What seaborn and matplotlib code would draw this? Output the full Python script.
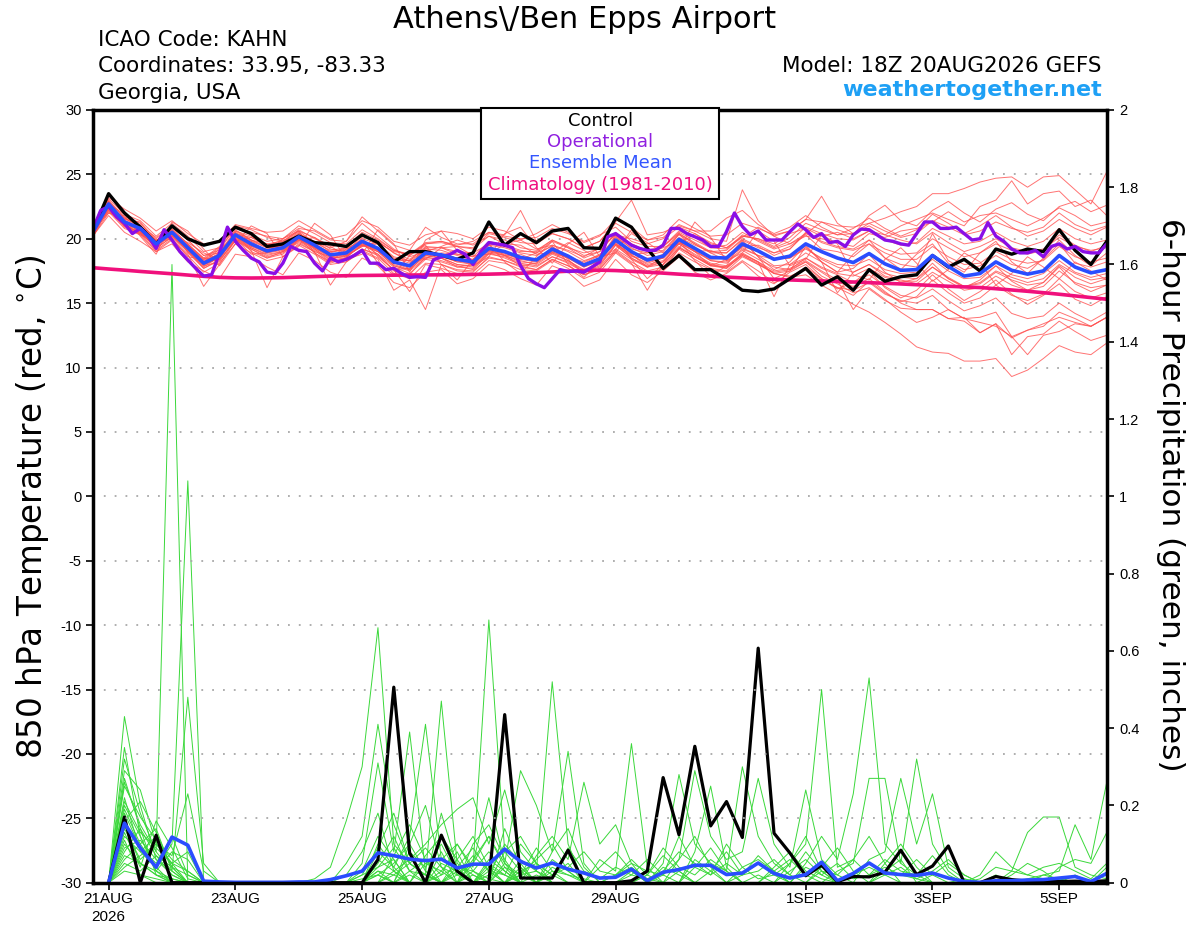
import numpy as np
import pandas as pd
import matplotlib
matplotlib.use("Agg")
import matplotlib.pyplot as plt
import seaborn as sns
from matplotlib.patches import Rectangle

# ---------------- data ----------------
RUN_START = "2026-08-20 18:00"
N_STEPS = 65          # 6-hourly temperature steps
N_OPER = 129          # 3-hourly operational steps

TICK_DATES = ["2026-08-21", "2026-08-23", "2026-08-25", "2026-08-27",
              "2026-08-29", "2026-09-01", "2026-09-03", "2026-09-05"]
TICK_LABELS = ["21AUG\n2026", "23AUG", "25AUG", "27AUG", "29AUG", "1SEP", "3SEP", "5SEP"]

TEMP_TICKS = [30, 25, 20, 15, 10, 5, 0, -5, -10, -15, -20, -25, -30]
PRCP_TICKS = [0, 0.2, 0.4, 0.6, 0.8, 1, 1.2, 1.4, 1.6, 1.8, 2]
PRCP_TICK_LABELS = ["0", "0.2", "0.4", "0.6", "0.8", "1", "1.2", "1.4", "1.6", "1.8", "2"]

control_t = [20.6, 23.5, 22.0, 20.9, 19.6, 21.0, 20.0, 19.5, 19.8, 20.9, 20.4, 19.4, 19.6,
             20.2, 19.7, 19.6, 19.4, 20.3, 19.7, 18.2, 19.0, 19.0, 18.7, 18.4, 18.9, 21.3,
             19.5, 20.4, 19.7, 20.6, 20.8, 19.3, 19.25, 21.6, 20.9, 19.25, 17.7, 18.7, 17.6,
             17.6, 16.85, 16.0, 15.9, 16.1, 16.9, 17.7, 16.4, 17.05, 16.0, 17.6, 16.7, 17.05,
             17.2, 18.7, 17.8, 18.4, 17.5, 19.2, 18.8, 19.2, 19.0, 20.7, 19.1, 18.0, 19.8]

mean_t = [20.5, 22.7, 21.3, 20.8, 19.6, 20.5, 19.3, 18.1, 18.7, 20.3, 19.6, 19.05, 19.3,
          20.15, 19.5, 18.75, 18.9, 19.8, 19.25, 18.2, 17.9, 18.9, 18.75, 18.4, 18.2, 19.25,
          19.0, 18.55, 18.35, 19.2, 18.65, 17.95, 18.45, 19.9, 19.0, 18.35, 18.65, 19.95, 19.25,
          18.55, 18.5, 19.6, 19.05, 18.4, 18.65, 19.6, 19.0, 18.5, 18.15, 18.85, 18.05, 17.55,
          17.6, 18.7, 17.85, 17.1, 17.3, 18.2, 17.55, 17.25, 17.5, 18.7, 17.8, 17.35, 17.6]

clim_t = [17.75, 17.65, 17.56, 17.46, 17.37, 17.28, 17.18, 17.08, 17.00, 16.96, 16.95, 16.96, 16.98,
          17.02, 17.06, 17.10, 17.13, 17.15, 17.16, 17.17, 17.18, 17.19, 17.20, 17.21, 17.23, 17.25,
          17.28, 17.32, 17.37, 17.42, 17.48, 17.53, 17.56, 17.53, 17.47, 17.40, 17.33, 17.25, 17.18,
          17.10, 17.02, 16.96, 16.90, 16.85, 16.80, 16.76, 16.72, 16.68, 16.64, 16.59, 16.54, 16.49,
          16.43, 16.37, 16.31, 16.26, 16.21, 16.12, 16.02, 15.92, 15.81, 15.69, 15.56, 15.43, 15.30]

oper_t = [20.7, 22.2, 22.5, 21.7, 21.2, 20.4, 20.8, 20.2, 19.25, 20.7, 19.9, 19.0, 18.35, 17.7,
          17.1, 17.2, 18.9, 20.9, 19.8, 19.1, 18.5, 18.2, 17.4, 17.3, 18.1, 19.4, 19.1, 19.0,
          18.1, 17.5, 18.5, 18.2, 18.4,
          18.7, 19.1, 18.1, 18.1, 17.6, 17.7, 17.3, 17.0, 17.05, 17.0, 18.35, 18.6, 18.75, 19.1,
          18.8, 18.0, 19.0, 19.7, 19.6, 19.5, 19.3, 17.9, 16.9, 16.5, 16.2, 16.9, 17.6, 17.45,
          17.5, 17.4, 17.8, 18.2,
          20.15, 20.4, 19.95, 19.5, 19.25, 19.1, 19.1, 19.5, 20.8, 20.8, 20.4, 20.15, 19.9, 19.4,
          19.4, 20.55, 22.0, 20.95, 20.3, 20.6, 19.9, 19.9, 19.9, 20.55, 21.15, 20.7, 20.1, 20.4,
          19.7, 19.8, 19.4, 20.3,
          20.75, 20.7, 20.3, 19.9, 19.8, 19.6, 19.5, 20.4, 21.3, 21.3, 20.8, 20.8, 20.9, 20.4,
          19.9, 20.0, 21.25, 20.2, 19.8, 19.2, 18.9, 18.9, 19.1, 18.6, 19.4, 19.6, 19.2, 19.4,
          19.0, 18.9, 18.9, 19.6]

R01 = [20.3, 22.9, 21.7, 21.2, 20.0, 20.9, 19.9, 18.7, 19.1, 20.9, 20.3, 19.8, 20.0,
       21.0, 20.4, 19.7, 19.6, 20.7, 20.0, 19.1, 18.7, 19.6, 19.8, 19.4, 19.3, 20.4,
       20.1, 19.7, 19.6, 20.4, 20.0, 19.3, 19.8, 21.2, 20.5, 19.9, 20.3, 21.5, 20.8,
       20.2, 20.3, 21.2, 20.8, 20.3, 20.6, 21.5, 21.3, 21.0, 20.9, 21.2, 21.6, 22.1,
       22.5, 23.5, 23.5, 23.9, 24.4, 24.7, 24.8, 24.0, 24.8, 24.9, 23.8, 22.7, 25.2]
R02 = [20.5, 23.1, 21.9, 21.0, 19.9, 20.4, 19.5, 18.5, 19.4, 21.0, 20.7, 20.1, 19.8,
       20.6, 19.7, 19.3, 19.8, 21.2, 20.2, 19.2, 18.6, 19.0, 19.4, 19.9, 19.5, 20.2,
       19.6, 19.9, 19.2, 19.5, 19.1, 18.6, 19.3, 20.3, 20.0, 19.6, 20.0, 20.9, 20.4,
       19.7, 19.3, 20.2, 20.0, 19.6, 20.4, 20.8, 20.2, 20.5, 20.0, 20.6, 20.3, 21.0,
       21.5, 22.0, 21.5, 21.0, 22.5, 23.0, 24.5, 22.7, 23.5, 23.7, 22.5, 23.0, 21.8]
R03 = [20.2, 22.5, 21.6, 20.9, 19.4, 20.8, 19.6, 18.4, 18.6, 20.6, 20.2, 19.5, 19.7,
       20.6, 20.1, 19.2, 19.0, 20.2, 19.8, 18.9, 18.4, 19.3, 19.3, 19.0, 18.9, 19.6,
       19.4, 19.0, 19.0, 19.9, 19.4, 18.7, 19.0, 20.4, 19.6, 19.1, 19.4, 20.6, 20.1,
       19.3, 19.5, 20.5, 19.8, 19.2, 19.6, 20.2, 20.0, 19.7, 19.4, 20.4, 20.1, 20.6,
       20.8, 21.3, 22.1, 21.3, 21.8, 22.0, 21.5, 21.0, 21.6, 22.4, 21.8, 21.0, 21.3]
R04 = [20.4, 22.6, 21.2, 20.6, 19.2, 20.2, 19.1, 17.7, 18.3, 19.9, 19.2, 18.6, 18.9,
       19.8, 19.1, 18.2, 18.5, 19.6, 18.8, 17.5, 17.2, 18.6, 18.3, 17.9, 17.6, 18.8,
       18.6, 18.1, 17.9, 18.6, 18.1, 17.4, 17.9, 19.5, 18.5, 17.8, 18.2, 19.6, 18.7,
       18.0, 17.8, 18.9, 18.2, 17.3, 17.0, 17.2, 16.4, 15.7, 14.9, 14.3, 13.5, 12.6,
       11.6, 11.2, 11.1, 10.5, 10.5, 10.7, 9.3, 9.8, 10.7, 11.7, 11.2, 11.0, 11.9]
R05 = [20.6, 22.3, 21.0, 20.5, 19.3, 20.1, 19.0, 17.9, 18.2, 20.0, 19.3, 18.8, 19.0,
       19.7, 19.0, 18.6, 18.4, 19.2, 18.8, 17.8, 17.3, 18.4, 18.2, 17.8, 17.7, 18.9,
       18.5, 18.0, 17.8, 18.6, 18.2, 17.4, 17.8, 19.2, 18.4, 17.8, 18.0, 19.3, 18.6,
       17.9, 17.8, 18.7, 18.0, 17.3, 17.5, 18.2, 17.4, 16.6, 16.3, 16.9, 15.9, 15.0,
       14.5, 14.5, 13.8, 13.6, 12.7, 13.4, 11.0, 12.4, 12.6, 13.6, 12.8, 12.1, 12.5]
R06 = [20.1, 22.4, 21.1, 20.4, 19.7, 20.4, 19.2, 18.0, 18.5, 20.1, 19.3, 18.7, 19.0,
       19.9, 19.3, 18.5, 18.6, 19.5, 19.0, 17.9, 17.5, 18.5, 18.5, 18.0, 17.8, 18.9,
       18.7, 18.3, 18.0, 18.8, 18.3, 17.5, 18.0, 19.5, 18.5, 17.9, 18.2, 19.4, 18.6,
       18.0, 17.7, 18.7, 18.1, 17.3, 17.1, 17.6, 16.8, 16.2, 16.0, 16.6, 15.7, 15.2,
       15.0, 15.6, 14.5, 13.8, 13.9, 14.3, 12.4, 12.9, 13.4, 13.9, 13.5, 13.2, 13.9]
R07 = [20.3, 22.8, 21.4, 20.7, 19.5, 20.3, 19.0, 17.8, 18.6, 20.2, 19.4, 18.9, 19.2,
       20.0, 19.3, 18.7, 18.7, 19.6, 19.1, 18.0, 17.6, 18.7, 18.6, 18.2, 18.0, 19.1,
       18.8, 18.4, 18.2, 19.0, 18.5, 17.8, 18.3, 19.7, 18.7, 18.1, 18.5, 19.7, 19.0,
       18.3, 18.2, 19.2, 18.7, 17.9, 18.0, 18.5, 17.7, 17.2, 16.6, 17.2, 16.3, 15.6,
       15.4, 16.1, 15.2, 14.4, 14.8, 15.4, 14.2, 13.8, 14.0, 15.0, 14.2, 13.6, 14.3]
R08 = [20.5, 22.2, 20.9, 20.4, 19.1, 20.0, 18.8, 16.3, 18.0, 19.9, 19.1, 16.2, 18.6,
       19.6, 19.0, 16.4, 18.2, 19.0, 18.4, 16.0, 16.8, 14.5, 18.0, 17.6, 17.5, 18.5,
       18.3, 17.9, 17.6, 18.4, 17.9, 17.2, 17.7, 19.0, 18.1, 16.0, 18.0, 19.3, 18.6,
       17.9, 17.7, 18.8, 18.2, 15.5, 18.0, 18.9, 18.2, 15.8, 17.4, 18.0, 17.1, 16.8,
       16.5, 17.4, 16.7, 16.0, 16.2, 17.1, 16.4, 16.0, 16.3, 17.5, 16.6, 16.2, 16.4]
R09 = [20.4, 22.7, 21.9, 21.4, 20.2, 21.2, 20.2, 19.0, 19.3, 20.8, 20.5, 20.2, 20.0,
       20.8, 20.6, 19.9, 19.8, 21.7, 20.6, 19.5, 19.1, 20.9, 20.1, 19.6, 19.6, 20.5,
       20.3, 22.2, 19.8, 20.4, 20.0, 19.3, 19.8, 21.3, 23.0, 20.3, 20.5, 21.0, 20.6,
       20.0, 19.8, 23.8, 21.4, 20.2, 20.6, 21.5, 23.3, 21.2, 20.4, 21.0, 20.3, 19.9,
       19.6, 20.5, 19.7, 19.0, 19.4, 20.0, 19.3, 19.0, 19.2, 20.1, 19.4, 19.1, 19.3]
R10 = [20.3, 22.4, 21.0, 20.9, 19.8, 20.6, 19.4, 18.2, 18.9, 20.5, 19.8, 19.3, 19.4,
       20.4, 19.8, 19.0, 19.1, 20.0, 19.6, 18.5, 18.1, 19.2, 19.1, 18.7, 18.4, 19.5,
       19.3, 18.9, 18.7, 19.5, 19.0, 18.3, 18.7, 20.1, 19.3, 18.7, 19.0, 20.3, 19.6,
       18.9, 18.9, 20.0, 19.4, 18.7, 19.2, 20.4, 19.8, 19.4, 19.2, 19.9, 19.2, 18.8,
       18.9, 20.0, 19.3, 18.6, 18.9, 19.6, 19.1, 18.8, 19.1, 20.3, 19.5, 19.0, 19.5]
R11 = [20.6, 22.1, 20.8, 20.3, 19.0, 19.9, 18.7, 17.4, 18.1, 19.6, 18.9, 18.3, 18.6,
       19.5, 18.8, 18.0, 18.2, 19.1, 18.5, 17.3, 16.9, 18.1, 18.0, 17.5, 17.4, 18.6,
       18.3, 17.8, 17.6, 18.4, 17.9, 17.2, 17.6, 19.1, 18.2, 17.5, 17.8, 19.2, 18.4,
       17.7, 17.5, 18.6, 18.0, 17.4, 17.6, 18.5, 17.8, 17.3, 17.1, 17.7, 17.0, 16.7,
       16.7, 17.8, 16.9, 16.3, 16.5, 17.4, 16.8, 16.4, 16.6, 17.9, 17.0, 16.5, 16.9]
R12 = [20.2, 22.0, 21.5, 20.5, 19.8, 20.7, 19.6, 18.5, 18.4, 20.4, 19.9, 19.4, 19.6,
       20.5, 19.2, 18.4, 18.7, 19.4, 19.6, 18.4, 18.3, 18.5, 18.9, 18.8, 18.6, 19.0,
       18.9, 18.4, 18.9, 19.4, 18.6, 18.2, 18.8, 19.6, 18.8, 18.9, 19.3, 19.8, 19.0,
       19.1, 18.6, 19.4, 19.5, 18.9, 19.4, 20.3, 19.2, 19.0, 18.6, 19.6, 18.5, 18.0,
       17.8, 20.4, 18.3, 17.6, 17.9, 18.7, 18.0, 17.7, 18.4, 19.6, 18.1, 17.8, 18.2]
R13 = [20.5, 23.0, 21.6, 21.0, 19.5, 20.7, 19.5, 18.3, 18.8, 20.6, 19.9, 19.3, 19.5,
       20.4, 19.7, 19.1, 19.3, 20.3, 19.6, 18.6, 18.3, 19.4, 19.3, 18.8, 18.6, 19.8,
       19.5, 19.1, 18.9, 19.8, 19.3, 18.5, 19.0, 20.5, 19.6, 19.0, 19.4, 20.5, 19.9,
       19.3, 19.2, 20.3, 19.9, 19.3, 19.8, 20.9, 20.4, 20.0, 19.9, 20.6, 19.9, 19.5,
       19.7, 20.8, 20.2, 19.6, 19.8, 20.5, 19.8, 19.4, 19.8, 20.8, 20.0, 19.6, 19.9]
R14 = [20.4, 22.5, 21.3, 20.6, 19.3, 20.4, 19.2, 18.0, 18.5, 20.0, 19.2, 18.5, 18.8,
       19.9, 19.2, 18.3, 18.4, 19.2, 18.7, 17.6, 15.9, 18.0, 17.7, 17.3, 17.2, 18.3,
       18.1, 17.6, 17.5, 18.3, 17.7, 16.9, 17.4, 18.9, 18.0, 17.4, 17.6, 18.9, 18.2,
       17.6, 17.4, 18.3, 17.5, 16.6, 17.0, 17.8, 16.9, 16.2, 15.6, 16.7, 15.8, 15.1,
       15.5, 16.8, 15.8, 15.0, 15.4, 16.4, 15.6, 15.2, 15.7, 16.9, 15.9, 15.4, 15.8]
R15 = [20.3, 22.6, 21.2, 20.8, 19.9, 20.3, 19.1, 18.2, 19.2, 20.1, 19.4, 19.2, 19.5,
       20.1, 19.6, 18.9, 19.3, 19.7, 19.0, 18.4, 18.3, 19.1, 18.7, 18.2, 18.4, 19.1,
       18.7, 18.8, 18.3, 18.9, 18.5, 18.1, 18.7, 19.6, 18.6, 18.5, 18.5, 19.7, 19.0,
       18.4, 18.5, 19.3, 18.7, 18.4, 18.5, 19.2, 18.5, 18.0, 17.9, 18.4, 17.6, 17.3,
       17.4, 18.4, 17.5, 16.9, 17.0, 17.9, 17.2, 16.9, 17.3, 18.3, 17.4, 17.0, 17.3]
R16 = [20.4, 22.8, 21.0, 20.7, 19.7, 20.2, 19.4, 18.4, 19.0, 20.4, 20.1, 19.5, 19.9,
       20.0, 19.4, 19.0, 19.2, 19.5, 19.7, 19.0, 18.8, 19.7, 19.8, 19.5, 19.8, 20.5,
       20.2, 20.0, 20.1, 20.8, 20.4, 19.8, 20.3, 20.9, 19.8, 19.4, 19.4, 20.4, 19.6,
       18.9, 18.3, 19.4, 19.0, 18.5, 18.5, 19.3, 18.4, 17.8, 17.4, 18.0, 17.3, 17.0,
       16.9, 17.8, 17.0, 16.3, 16.6, 17.5, 17.0, 16.6, 16.9, 18.0, 17.3, 16.8, 17.0]
R17 = [20.5, 22.4, 21.1, 21.1, 19.4, 20.6, 19.5, 18.1, 18.8, 20.2, 19.8, 19.0, 19.4,
       20.3, 19.5, 18.6, 18.8, 19.7, 19.2, 18.2, 17.9, 18.8, 18.8, 18.3, 18.1, 19.2,
       18.9, 18.5, 18.3, 19.1, 18.6, 17.9, 18.4, 19.8, 18.9, 18.3, 18.8, 20.1, 19.5,
       19.0, 19.1, 20.2, 20.0, 19.4, 20.1, 21.2, 20.7, 20.3, 20.4, 21.2, 20.6, 20.1,
       20.4, 21.4, 20.9, 20.3, 20.6, 21.3, 20.8, 20.5, 20.9, 22.0, 21.1, 20.6, 21.0]
R18 = [20.4, 22.2, 21.0, 20.5, 19.5, 20.2, 19.1, 17.9, 18.6, 20.2, 19.5, 18.9, 19.1,
       20.0, 19.3, 18.6, 18.6, 19.5, 19.0, 17.9, 17.6, 18.7, 18.5, 18.0, 17.9, 19.0,
       18.7, 18.2, 18.1, 18.9, 18.3, 17.6, 18.1, 19.6, 18.7, 18.0, 18.3, 19.6, 18.8,
       18.1, 17.9, 18.8, 18.2, 17.5, 17.7, 18.3, 17.5, 16.8, 14.5, 16.1, 15.2, 14.6,
       14.5, 14.5, 13.8, 13.9, 12.7, 13.4, 12.3, 12.9, 13.2, 14.3, 13.8, 13.2, 13.9]
R19 = [20.3, 22.6, 21.6, 21.0, 20.1, 20.9, 19.9, 18.7, 18.9, 20.7, 19.9, 19.6, 19.8,
       20.7, 20.0, 19.5, 19.4, 20.5, 19.9, 19.1, 18.8, 19.6, 19.7, 19.4, 19.2, 20.2,
       19.9, 19.3, 19.1, 19.9, 19.3, 18.9, 19.2, 20.3, 19.2, 18.9, 19.1, 20.4, 19.7,
       19.0, 18.9, 19.9, 19.3, 18.9, 19.2, 20.5, 19.7, 19.3, 19.1, 19.6, 18.9, 18.4,
       18.4, 19.4, 18.6, 18.0, 18.1, 19.0, 18.4, 18.1, 18.3, 19.4, 18.6, 18.2, 18.5]
R20 = [20.5, 22.9, 21.4, 20.9, 19.6, 20.5, 19.3, 18.2, 18.6, 20.3, 19.5, 19.0, 19.2,
       20.1, 19.4, 18.7, 18.8, 19.7, 19.1, 18.1, 17.7, 18.8, 18.7, 18.3, 18.0, 19.2,
       18.9, 18.5, 18.3, 19.0, 18.5, 17.8, 18.3, 19.8, 18.9, 18.2, 18.5, 19.8, 19.1,
       18.3, 18.1, 19.1, 18.4, 17.8, 17.6, 18.2, 17.1, 16.5, 15.8, 16.2, 15.3, 14.3,
       13.5, 13.9, 14.5, 13.8, 13.5, 13.2, 12.4, 11.0, 12.5, 12.8, 13.4, 13.2, 13.9]
R21 = [20.6, 22.0, 21.8, 20.2, 18.8, 21.3, 20.6, 19.2, 17.9, 19.6, 21.0, 20.4, 18.6,
       19.4, 21.2, 20.3, 18.4, 18.8, 20.7, 19.6, 17.4, 19.9, 20.6, 19.1, 17.9, 18.6,
       20.4, 20.9, 19.3, 18.1, 19.6, 20.5, 18.6, 18.9, 20.7, 19.4, 17.6, 19.2, 21.3,
       20.1, 18.3, 18.9, 20.6, 19.8, 17.9, 18.4, 20.3, 19.6, 17.2, 16.8, 18.4, 19.3,
       18.1, 16.7, 17.6, 18.9, 18.2, 16.4, 17.3, 18.6, 17.8, 16.9, 18.2, 17.5, 16.8]
R22 = [20.2, 21.8, 20.5, 19.8, 19.0, 19.6, 18.2, 17.5, 16.9, 18.8, 18.6, 17.8, 17.2,
       18.9, 18.3, 17.4, 17.0, 18.5, 17.9, 16.6, 16.2, 17.4, 17.6, 16.5, 16.9, 18.0,
       17.6, 16.9, 16.4, 17.9, 17.4, 16.3, 16.8, 18.4, 17.2, 16.6, 17.5, 18.6, 17.4,
       16.8, 17.3, 18.2, 17.1, 16.5, 17.4, 18.0, 16.9, 16.1, 16.6, 17.5, 16.2, 15.4,
       16.0, 17.2, 16.1, 15.2, 15.9, 16.8, 15.7, 14.9, 15.6, 16.5, 15.3, 14.8, 15.5]
R23 = [20.4, 23.2, 22.3, 21.6, 20.6, 21.4, 20.4, 19.6, 19.8, 21.1, 20.8, 20.5, 20.6,
       21.4, 20.7, 20.0, 20.3, 21.4, 20.9, 19.8, 19.5, 20.3, 20.6, 20.4, 20.0, 20.9,
       20.6, 19.9, 20.4, 21.1, 20.5, 19.7, 20.2, 21.5, 20.9, 19.9, 20.1, 21.1, 20.6,
       20.6, 21.6, 22.2, 21.1, 20.4, 20.9, 21.8, 20.9, 20.3, 20.8, 21.6, 20.8, 20.2,
       20.7, 21.9, 21.2, 20.4, 21.0, 21.8, 20.9, 20.2, 20.6, 21.5, 20.8, 20.3, 20.9]
R24 = [20.5, 22.4, 21.0, 20.3, 19.7, 20.0, 18.6, 18.4, 19.3, 20.0, 18.8, 18.9, 20.0,
       20.6, 18.9, 18.2, 19.2, 19.9, 18.1, 17.2, 18.7, 19.5, 18.0, 16.8, 18.4, 19.6,
       18.2, 17.3, 18.6, 19.8, 18.0, 17.0, 18.2, 20.2, 18.4, 16.9, 18.0, 19.9, 18.3,
       17.1, 17.9, 19.8, 18.6, 16.9, 17.5, 19.4, 18.2, 17.4, 18.8, 19.9, 18.5, 17.6,
       18.8, 19.6, 18.1, 17.4, 18.9, 19.8, 18.2, 17.3, 18.5, 19.9, 18.7, 17.9, 18.9]
R25 = [20.3, 22.6, 21.5, 21.3, 19.8, 20.3, 19.7, 18.9, 18.4, 19.8, 20.1, 19.6, 19.1,
       19.9, 20.1, 19.4, 18.7, 19.4, 19.8, 18.9, 18.2, 18.4, 19.3, 19.4, 18.7, 18.8,
       19.6, 19.5, 18.8, 18.9, 19.7, 19.1, 18.4, 19.2, 20.4, 19.7, 18.9, 19.6, 20.4,
       19.6, 19.3, 20.1, 20.9, 20.2, 19.6, 20.4, 21.3, 20.7, 20.3, 21.8, 22.6, 21.4,
       21.0, 22.2, 22.9, 22.0, 21.3, 22.3, 22.8, 21.9, 21.4, 22.5, 22.9, 22.1, 22.6]
R26 = [20.6, 22.9, 21.1, 20.4, 19.4, 20.7, 18.9, 17.7, 18.4, 20.5, 19.0, 18.5, 19.0,
       20.0, 18.9, 18.1, 18.5, 20.1, 18.6, 17.6, 17.7, 19.3, 18.5, 17.8, 18.0, 19.5,
       18.7, 17.9, 18.1, 19.4, 18.4, 17.3, 18.4, 20.3, 18.8, 17.8, 18.6, 20.4, 19.0,
       17.9, 18.4, 19.9, 18.6, 17.6, 18.2, 19.5, 18.2, 17.4, 17.7, 18.8, 17.4, 16.6,
       16.9, 18.1, 16.9, 16.2, 16.8, 17.9, 16.7, 16.0, 16.6, 17.8, 16.5, 15.9, 16.4]
RED_MEMBERS = [R01, R02, R03, R04, R05, R06, R07, R08, R09, R10, R11, R12, R13,
               R14, R15, R16, R17, R18, R19, R20, R21, R22, R23, R24, R25, R26]

# 6-hour precipitation (inches), steps 1..64 (ending 21AUG 00Z .. 5SEP 18Z)
control_p = [0, .17, 0, .123, 0, 0, 0, 0, 0, 0, 0, 0, 0, 0, 0, 0,
             0, .06, .506, .077, 0, .123, .03, 0, 0, .435, .012, .012, .012, .084, 0, 0,
             0, .005, .03, .272, .124, .353, .147, .21, .117, .607, .128, .077, .018, .045, .003, .016,
             .015, .027, .084, .021, .043, .095, 0, 0, .016, .008, .004, .004, .003, .004, .003, .005]
mean_p = [0, .154, .09, .04, .118, .097, .004, .002, .001, .001, .001, .001, .002, .002, .008, .018,
          .03, .077, .07, .061, .057, .061, .038, .048, .048, .087, .055, .038, .051, .035, .025, .012,
          .014, .035, .005, .027, .034, .045, .045, .021, .025, .051, .024, .012, .021, .053, .005, .024,
          .051, .025, .021, .019, .025, .012, .003, .001, .005, .005, .007, .008, .012, .016, .003, .024]

G01 = [0, .43, .20, .06, .02, 0, 0, 0, 0, 0, 0, 0, 0, .01, .04, .16,
       .30, .66, .10, .05, .02, 0, 0, 0, .03, 0, 0, 0, 0, 0, 0, 0,
       0, 0, 0, 0, .03, 0, 0, 0, 0, .02, 0, 0, 0, 0, 0, 0,
       0, 0, 0, 0, 0, 0, 0, 0, .02, 0, 0, 0, 0, 0, 0, 0]
G02 = [0, .35, .12, .03, 0, 0, 0, 0, 0, 0, 0, 0, 0, 0, 0, .05,
       .12, .41, .15, .05, .02, .47, .05, .02, 0, 0, 0, 0, 0, 0, 0, 0,
       0, .02, .01, 0, 0, 0, 0, 0, 0, 0, 0, 0, 0, 0, 0, 0,
       0, 0, 0, 0, 0, 0, .01, 0, 0, 0, 0, 0, 0, 0, 0, 0]
G03 = [0, .29, .24, .10, .05, 0, 0, 0, 0, 0, 0, 0, 0, 0, 0, 0,
       .05, .31, .08, .39, .03, 0, 0, .05, .22, .05, 0, 0, .02, .05, 0, 0,
       0, 0, 0, .04, .02, 0, 0, 0, 0, 0, 0, 0, 0, 0, 0, 0,
       0, 0, 0, 0, 0, 0, 0, 0, 0, 0, 0, 0, 0, 0, 0, 0]
G04 = [0, .26, .15, .08, 1.60, 0, 0, 0, 0, 0, 0, 0, 0, 0, 0, 0,
       0, .08, .04, .12, .41, .06, .10, .04, .68, .08, .03, 0, 0, 0, 0, 0,
       0, 0, 0, 0, 0, 0, 0, 0, 0, 0, 0, .03, .06, .02, 0, 0,
       0, 0, 0, 0, 0, 0, 0, 0, 0, 0, 0, 0, 0, 0, 0, 0]
G05 = [0, .22, .08, .04, .10, 1.04, 0, 0, 0, 0, 0, 0, 0, 0, 0, 0,
       0, 0, .03, .06, .10, .15, .19, .22, .10, .24, .08, .03, .52, .10, 0, 0,
       0, .03, 0, 0, 0, 0, 0, 0, 0, 0, 0, 0, 0, 0, 0, 0,
       0, 0, 0, 0, 0, 0, 0, 0, 0, 0, 0, 0, 0, 0, 0, 0]
G06 = [0, .19, .10, .14, .03, .48, .05, 0, 0, 0, 0, 0, 0, 0, 0, 0,
       0, .05, .12, .03, 0, .08, 0, .06, .12, .05, .29, .20, .08, .34, .05, 0,
       0, 0, 0, 0, 0, 0, .03, 0, 0, 0, 0, 0, 0, 0, 0, 0,
       0, 0, 0, 0, 0, 0, 0, 0, 0, 0, 0, 0, 0, 0, 0, 0]
G07 = [0, .14, .06, .10, .07, .23, .03, 0, 0, 0, 0, 0, 0, 0, 0, 0,
       0, .02, 0, .08, .04, .10, .02, 0, .05, .02, 0, .07, .12, .06, .26, .10,
       .15, .05, 0, 0, 0, 0, 0, 0, 0, 0, 0, 0, 0, 0, 0, 0,
       0, 0, 0, 0, 0, 0, 0, 0, 0, 0, 0, 0, 0, 0, 0, 0]
G08 = [0, .12, .08, .12, .04, 0, 0, 0, 0, 0, 0, 0, 0, 0, 0, 0,
       0, 0, 0, 0, .05, .03, .08, 0, .02, .10, .05, 0, .04, .02, 0, .06,
       .03, .36, .04, 0, 0, 0, 0, 0, 0, 0, 0, 0, 0, 0, 0, 0,
       0, 0, 0, 0, 0, 0, 0, 0, 0, 0, 0, 0, 0, 0, 0, 0]
G09 = [0, .10, .05, .03, .08, .06, 0, 0, 0, 0, 0, 0, 0, 0, 0, 0,
       0, 0, 0, 0, 0, .02, .04, .03, .01, 0, .03, .05, .02, 0, 0, 0,
       0, 0, 0, .05, .28, .10, .05, .03, .30, .12, .05, .02, 0, 0, 0, 0,
       0, 0, 0, 0, 0, 0, 0, 0, 0, 0, 0, 0, 0, 0, 0, 0]
G10 = [0, .08, .14, .02, 0, 0, 0, 0, 0, 0, 0, 0, 0, 0, 0, 0,
       0, .03, .02, 0, 0, 0, 0, .02, 0, 0, .04, 0, 0, 0, 0, 0,
       0, 0, 0, 0, .06, .29, .12, .06, .08, .27, .10, .04, .24, .06, .02, 0,
       0, 0, 0, 0, 0, 0, 0, 0, 0, 0, 0, 0, 0, 0, 0, 0]
G11 = [0, .05, .03, .07, .02, 0, 0, 0, 0, 0, 0, 0, 0, 0, 0, 0,
       0, 0, 0, 0, 0, .03, 0, 0, 0, .04, 0, .02, 0, 0, 0, 0,
       0, 0, 0, 0, 0, .08, .25, .04, 0, 0, 0, .05, .10, .50, .04, .06,
       .12, .05, 0, 0, 0, 0, 0, 0, 0, 0, 0, 0, 0, 0, 0, 0]
G12 = [0, .03, .02, .01, 0, 0, 0, 0, 0, 0, 0, 0, 0, 0, 0, 0,
       0, 0, 0, .02, 0, 0, .03, 0, 0, 0, 0, 0, 0, 0, 0, 0,
       0, 0, 0, 0, 0, 0, 0, 0, 0, 0, 0, 0, .05, .12, .06, .23,
       .53, .10, .05, .02, 0, 0, 0, 0, 0, 0, 0, 0, 0, 0, 0, 0]
G13 = [0, .18, .09, .05, .12, .02, 0, 0, 0, 0, 0, 0, 0, 0, 0, 0,
       0, .10, .04, 0, 0, 0, 0, 0, .04, .02, 0, 0, 0, 0, 0, 0,
       0, 0, 0, 0, 0, 0, 0, 0, 0, 0, 0, 0, 0, 0, .03, .05,
       .27, .27, .05, .32, .10, .03, 0, 0, 0, 0, 0, 0, 0, 0, 0, 0]
G14 = [0, .21, .13, .09, .05, .08, 0, 0, 0, 0, 0, 0, 0, 0, 0, 0,
       .03, .12, .06, 0, 0, .18, .04, 0, 0, 0, .06, .03, 0, 0, 0, 0,
       0, 0, 0, 0, 0, 0, 0, 0, 0, 0, 0, 0, 0, 0, 0, 0,
       .06, .08, .27, .10, .23, .04, .01, 0, 0, 0, 0, 0, 0, 0, 0, 0]
G15 = [0, .25, .17, .11, .06, .03, 0, 0, 0, 0, 0, 0, 0, 0, 0, 0,
       0, 0, .07, .15, .06, 0, 0, 0, 0, .08, .12, .05, 0, 0, 0, 0,
       0, 0, 0, 0, 0, 0, 0, 0, .04, .06, .03, 0, 0, 0, 0, 0,
       0, 0, 0, 0, 0, 0, 0, .02, .08, .04, .02, .01, 0, 0, 0, 0]
G16 = [0, .16, .21, .13, .04, 0, 0, 0, 0, 0, 0, 0, 0, 0, 0, 0,
       0, 0, 0, 0, 0, 0, .06, .12, .04, 0, 0, 0, .08, .14, .04, 0,
       0, 0, .02, .07, .03, 0, 0, 0, 0, 0, 0, 0, 0, .03, 0, 0,
       0, 0, 0, 0, 0, 0, 0, 0, 0, .03, .13, .17, .17, .04, .02, .01]
G17 = [0, .13, .04, .16, .09, .01, 0, 0, 0, 0, 0, 0, 0, 0, 0, .02,
       .08, .18, .03, 0, 0, 0, 0, 0, 0, 0, .02, .09, .03, 0, 0, 0,
       0, 0, 0, 0, 0, .04, .09, .03, 0, 0, 0, 0, 0, 0, 0, 0,
       0, 0, 0, 0, 0, 0, 0, 0, 0, 0, 0, .02, .03, .15, .06, .26]
G18 = [0, .09, .11, .06, .03, 0, 0, 0, 0, 0, 0, 0, 0, 0, 0, 0,
       0, 0, 0, .10, .20, .04, 0, 0, .06, .03, 0, 0, 0, 0, 0, 0,
       .02, .06, .02, 0, 0, 0, 0, 0, 0, 0, 0, 0, 0, 0, 0, .02,
       .04, .02, 0, 0, 0, 0, 0, 0, 0, 0, 0, 0, .04, .06, .05, .13]
G19 = [0, .06, .10, .04, 0, 0, 0, 0, 0, 0, 0, 0, 0, 0, 0, 0,
       0, .06, .03, 0, 0, 0, 0, .10, .15, .06, 0, 0, 0, 0, 0, 0,
       0, 0, 0, 0, 0, 0, 0, 0, 0, 0, .03, .06, .02, 0, 0, 0,
       0, .05, .10, .04, 0, 0, 0, .01, .04, .03, .02, .04, .05, .03, .01, .05]
G20 = [0, .04, .07, .10, .05, .03, 0, 0, 0, 0, 0, 0, 0, 0, 0, 0,
       .02, .04, .06, 0, 0, .05, .03, 0, 0, 0, 0, 0, 0, 0, 0, .04,
       .08, .03, 0, 0, 0, 0, 0, 0, 0, 0, 0, 0, 0, 0, 0, 0,
       0, .03, .06, 0, 0, 0, 0, 0, 0, .02, .05, .03, 0, .02, 0, .04]
G21 = [0, .11, .02, 0, 0, 0, 0, 0, 0, 0, 0, 0, 0, 0, 0, 0,
       0, .03, 0, 0, .07, .12, .06, 0, 0, .14, .04, 0, 0, 0, 0, 0,
       0, 0, 0, .02, .06, .12, .04, 0, 0, 0, 0, 0, 0, 0, 0, 0,
       0, 0, 0, 0, .02, .05, .02, 0, 0, 0, 0, 0, 0, 0, 0, 0]
G22 = [0, .07, .05, .02, .01, 0, 0, 0, 0, 0, 0, 0, 0, 0, 0, 0,
       .01, .02, 0, .03, .02, 0, 0, .03, .08, .03, 0, 0, .06, .03, 0, 0,
       0, 0, 0, 0, 0, 0, 0, 0, .02, .05, .02, 0, 0, .04, .09, .03,
       0, 0, 0, 0, 0, 0, 0, 0, 0, 0, 0, 0, .01, 0, 0, 0]
G23 = [0, .15, .05, .02, 0, 0, 0, 0, 0, 0, 0, 0, 0, 0, 0, 0,
       .02, .09, .18, .05, .02, 0, .04, .09, .03, 0, .02, .06, .10, .03, 0, 0,
       0, 0, .02, .09, .04, .02, .06, .03, 0, 0, .04, .08, .03, .01, 0, 0,
       0, .02, .04, .01, 0, 0, 0, 0, 0, 0, 0, 0, 0, 0, 0, 0]
G24 = [0, .20, .12, .03, .01, 0, 0, 0, 0, 0, 0, 0, 0, 0, 0, 0,
       0, .02, .05, .10, .03, 0, .02, .05, .12, .04, .02, 0, .03, .02, .01, 0,
       .02, .04, .01, .03, .08, .05, .02, .10, .04, .01, .02, .05, .12, .03, 0, .02,
       .05, .03, .02, .06, .02, 0, 0, 0, 0, 0, .01, .02, .01, 0, 0, 0]
G25 = [0, .27, .14, .07, .04, .02, 0, 0, 0, 0, 0, 0, 0, 0, 0, 0,
       0, .04, .09, .03, .06, .02, .10, .03, 0, .05, .02, .03, .01, .09, .03, .01,
       .04, .02, .06, .02, 0, .06, .03, .08, .02, .07, .03, 0, .04, .02, .05, .01,
       .02, .06, .03, .02, .07, .02, 0, 0, 0, 0, 0, 0, 0, 0, 0, 0]
G26 = [0, .32, .18, .08, .03, 0, 0, 0, 0, 0, 0, 0, 0, 0, 0, 0,
       0, 0, .02, .05, .09, .04, .02, .07, .03, .02, .10, .05, .02, .04, .08, .03,
       .02, .05, .03, .02, .12, .04, .02, .05, .02, .03, .06, .02, .08, .03, .02, .06,
       .02, .04, .02, .01, .03, .06, .02, 0, 0, 0, 0, 0, 0, 0, 0, 0]
GREEN_MEMBERS = [G01, G02, G03, G04, G05, G06, G07, G08, G09, G10, G11, G12, G13,
                 G14, G15, G16, G17, G18, G19, G20, G21, G22, G23, G24, G25, G26]

# ---------------- frames ----------------
t6 = pd.date_range(RUN_START, periods=N_STEPS, freq="6h")
t3 = pd.date_range(RUN_START, periods=N_OPER, freq="3h")
tp = t6[1:]

red_df = pd.concat([pd.DataFrame({"time": t6, "temp": m, "member": k})
                    for k, m in enumerate(RED_MEMBERS)], ignore_index=True)
green_df = pd.concat([pd.DataFrame({"time": tp, "prcp": m, "member": k})
                      for k, m in enumerate(GREEN_MEMBERS)], ignore_index=True)
ctl_df = pd.DataFrame({"time": t6, "temp": control_t})
mean_df = pd.DataFrame({"time": t6, "temp": mean_t})
clim_df = pd.DataFrame({"time": t6, "temp": clim_t})
oper_df = pd.DataFrame({"time": t3, "temp": oper_t})
ctlp_df = pd.DataFrame({"time": tp, "prcp": control_p})
meanp_df = pd.DataFrame({"time": tp, "prcp": mean_p})

# ---------------- styling ----------------
sns.set_theme(style="white")
plt.rcParams["font.family"] = ["Liberation Sans", "DejaVu Sans"]
plt.rcParams["text.color"] = "black"
plt.rcParams["axes.labelcolor"] = "black"
plt.rcParams["xtick.color"] = "black"
plt.rcParams["ytick.color"] = "black"

RED = "#ff5050"
GREEN = "#3ad83a"
PURPLE = "#8a0ee6"
BLUE = "#2a4dff"
PINK = "#f0107c"
HEAD = ["DejaVu Sans"]

fig = plt.figure(figsize=(12, 9.27), dpi=100)
ax = fig.add_axes([0.0773, 0.0478, 0.845, 0.8336])
ax2 = ax.twinx()
ax.set_zorder(ax2.get_zorder() + 1)
ax.patch.set_visible(False)

# precipitation (right axis)
sns.lineplot(data=green_df, x="time", y="prcp", units="member", estimator=None,
             color=GREEN, linewidth=0.7, ax=ax2, legend=False)
sns.lineplot(data=ctlp_df, x="time", y="prcp", color="black", linewidth=2.3, ax=ax2)
sns.lineplot(data=meanp_df, x="time", y="prcp", color=BLUE, linewidth=2.6, ax=ax2)

# temperature (left axis)
sns.lineplot(data=red_df, x="time", y="temp", units="member", estimator=None,
             color=RED, linewidth=0.7, alpha=0.8, ax=ax, legend=False)
sns.lineplot(data=clim_df, x="time", y="temp", color=PINK, linewidth=2.6, ax=ax)
sns.lineplot(data=ctl_df, x="time", y="temp", color="black", linewidth=2.4, ax=ax)
sns.lineplot(data=oper_df, x="time", y="temp", color=PURPLE, linewidth=2.4, ax=ax)
sns.lineplot(data=mean_df, x="time", y="temp", color=BLUE, linewidth=2.6, ax=ax)

ax.set_xlim(t6[0], t6[-1])
ax.set_ylim(-30, 30)
ax2.set_ylim(0, 2)

ax.set_yticks(TEMP_TICKS)
ax.set_yticklabels([str(v) for v in TEMP_TICKS])
ax2.set_yticks(PRCP_TICKS)
ax2.set_yticklabels(PRCP_TICK_LABELS)
ax.set_xticks(pd.to_datetime(TICK_DATES))
ax.set_xticklabels(TICK_LABELS)

ax.set_xlabel("")
ax.set_ylabel("")
ax2.set_ylabel("")

for g in TEMP_TICKS[1:-1]:
    ax.axhline(g, color="#a8a8a8", linestyle=(0, (1, 5)), linewidth=1.3, zorder=0.5)

for s in ax.spines.values():
    s.set_linewidth(2.5)
    s.set_color("black")
for s in ax2.spines.values():
    s.set_visible(False)

ax.tick_params(axis="y", direction="out", length=5, width=1.2, labelsize=10.5, pad=3, colors="black", left=True)
ax.tick_params(axis="x", direction="out", length=5, width=1.2, labelsize=11, pad=2, colors="black", bottom=True)
ax2.tick_params(axis="y", direction="out", length=5, width=1.2, labelsize=10.5, pad=4, colors="black", right=True)
for lab in ax.get_xticklabels():
    lab.set_linespacing(1.3)

# legend box
ax.add_patch(Rectangle((0.383, 0.8847), 0.2347, 0.1178, transform=ax.transAxes,
                       facecolor="white", edgecolor="black", linewidth=1.5,
                       zorder=20, clip_on=False))
leg_items = [("Control", "black", 0.9856), ("Operational", "#9020e0", 0.9585),
             ("Ensemble Mean", "#3355ff", 0.9313), ("Climatology (1981-2010)", "#f01080", 0.9029)]
for txt, col, yy in leg_items:
    ax.text(0.5005, yy, txt, color=col, fontsize=13, ha="center", va="center",
            transform=ax.transAxes, zorder=21, family=HEAD)

# titles and labels
fig.text(0.4875, 0.979, "Athens\\/Ben Epps Airport", fontsize=22, ha="center", va="center", family=HEAD)
fig.text(0.0817, 0.9569, "ICAO Code: KAHN", fontsize=15.5, ha="left", va="center", family=HEAD)
fig.text(0.0817, 0.9288, "Coordinates: 33.95, -83.33", fontsize=15.5, ha="left", va="center", family=HEAD)
fig.text(0.0817, 0.8997, "Georgia, USA", fontsize=15.5, ha="left", va="center", family=HEAD)
fig.text(0.9183, 0.9288, "Model: 18Z 20AUG2026 GEFS", fontsize=15.5, ha="right", va="center", family=HEAD)
fig.text(0.9183, 0.9029, "weathertogether.net", fontsize=16, ha="right", va="center",
         color="#1ea0f5", fontweight="bold", family=HEAD)
fig.text(0.027, 0.453, "850 hPa Temperature (red, $^{\\circ}$C)", fontsize=23.5,
         rotation=90, ha="center", va="center", family=HEAD)
fig.text(0.975, 0.466, "6-hour Precipitation (green, inches)", fontsize=22.5,
         rotation=270, ha="center", va="center", family=HEAD)

fig.savefig("out.png", dpi=100)
